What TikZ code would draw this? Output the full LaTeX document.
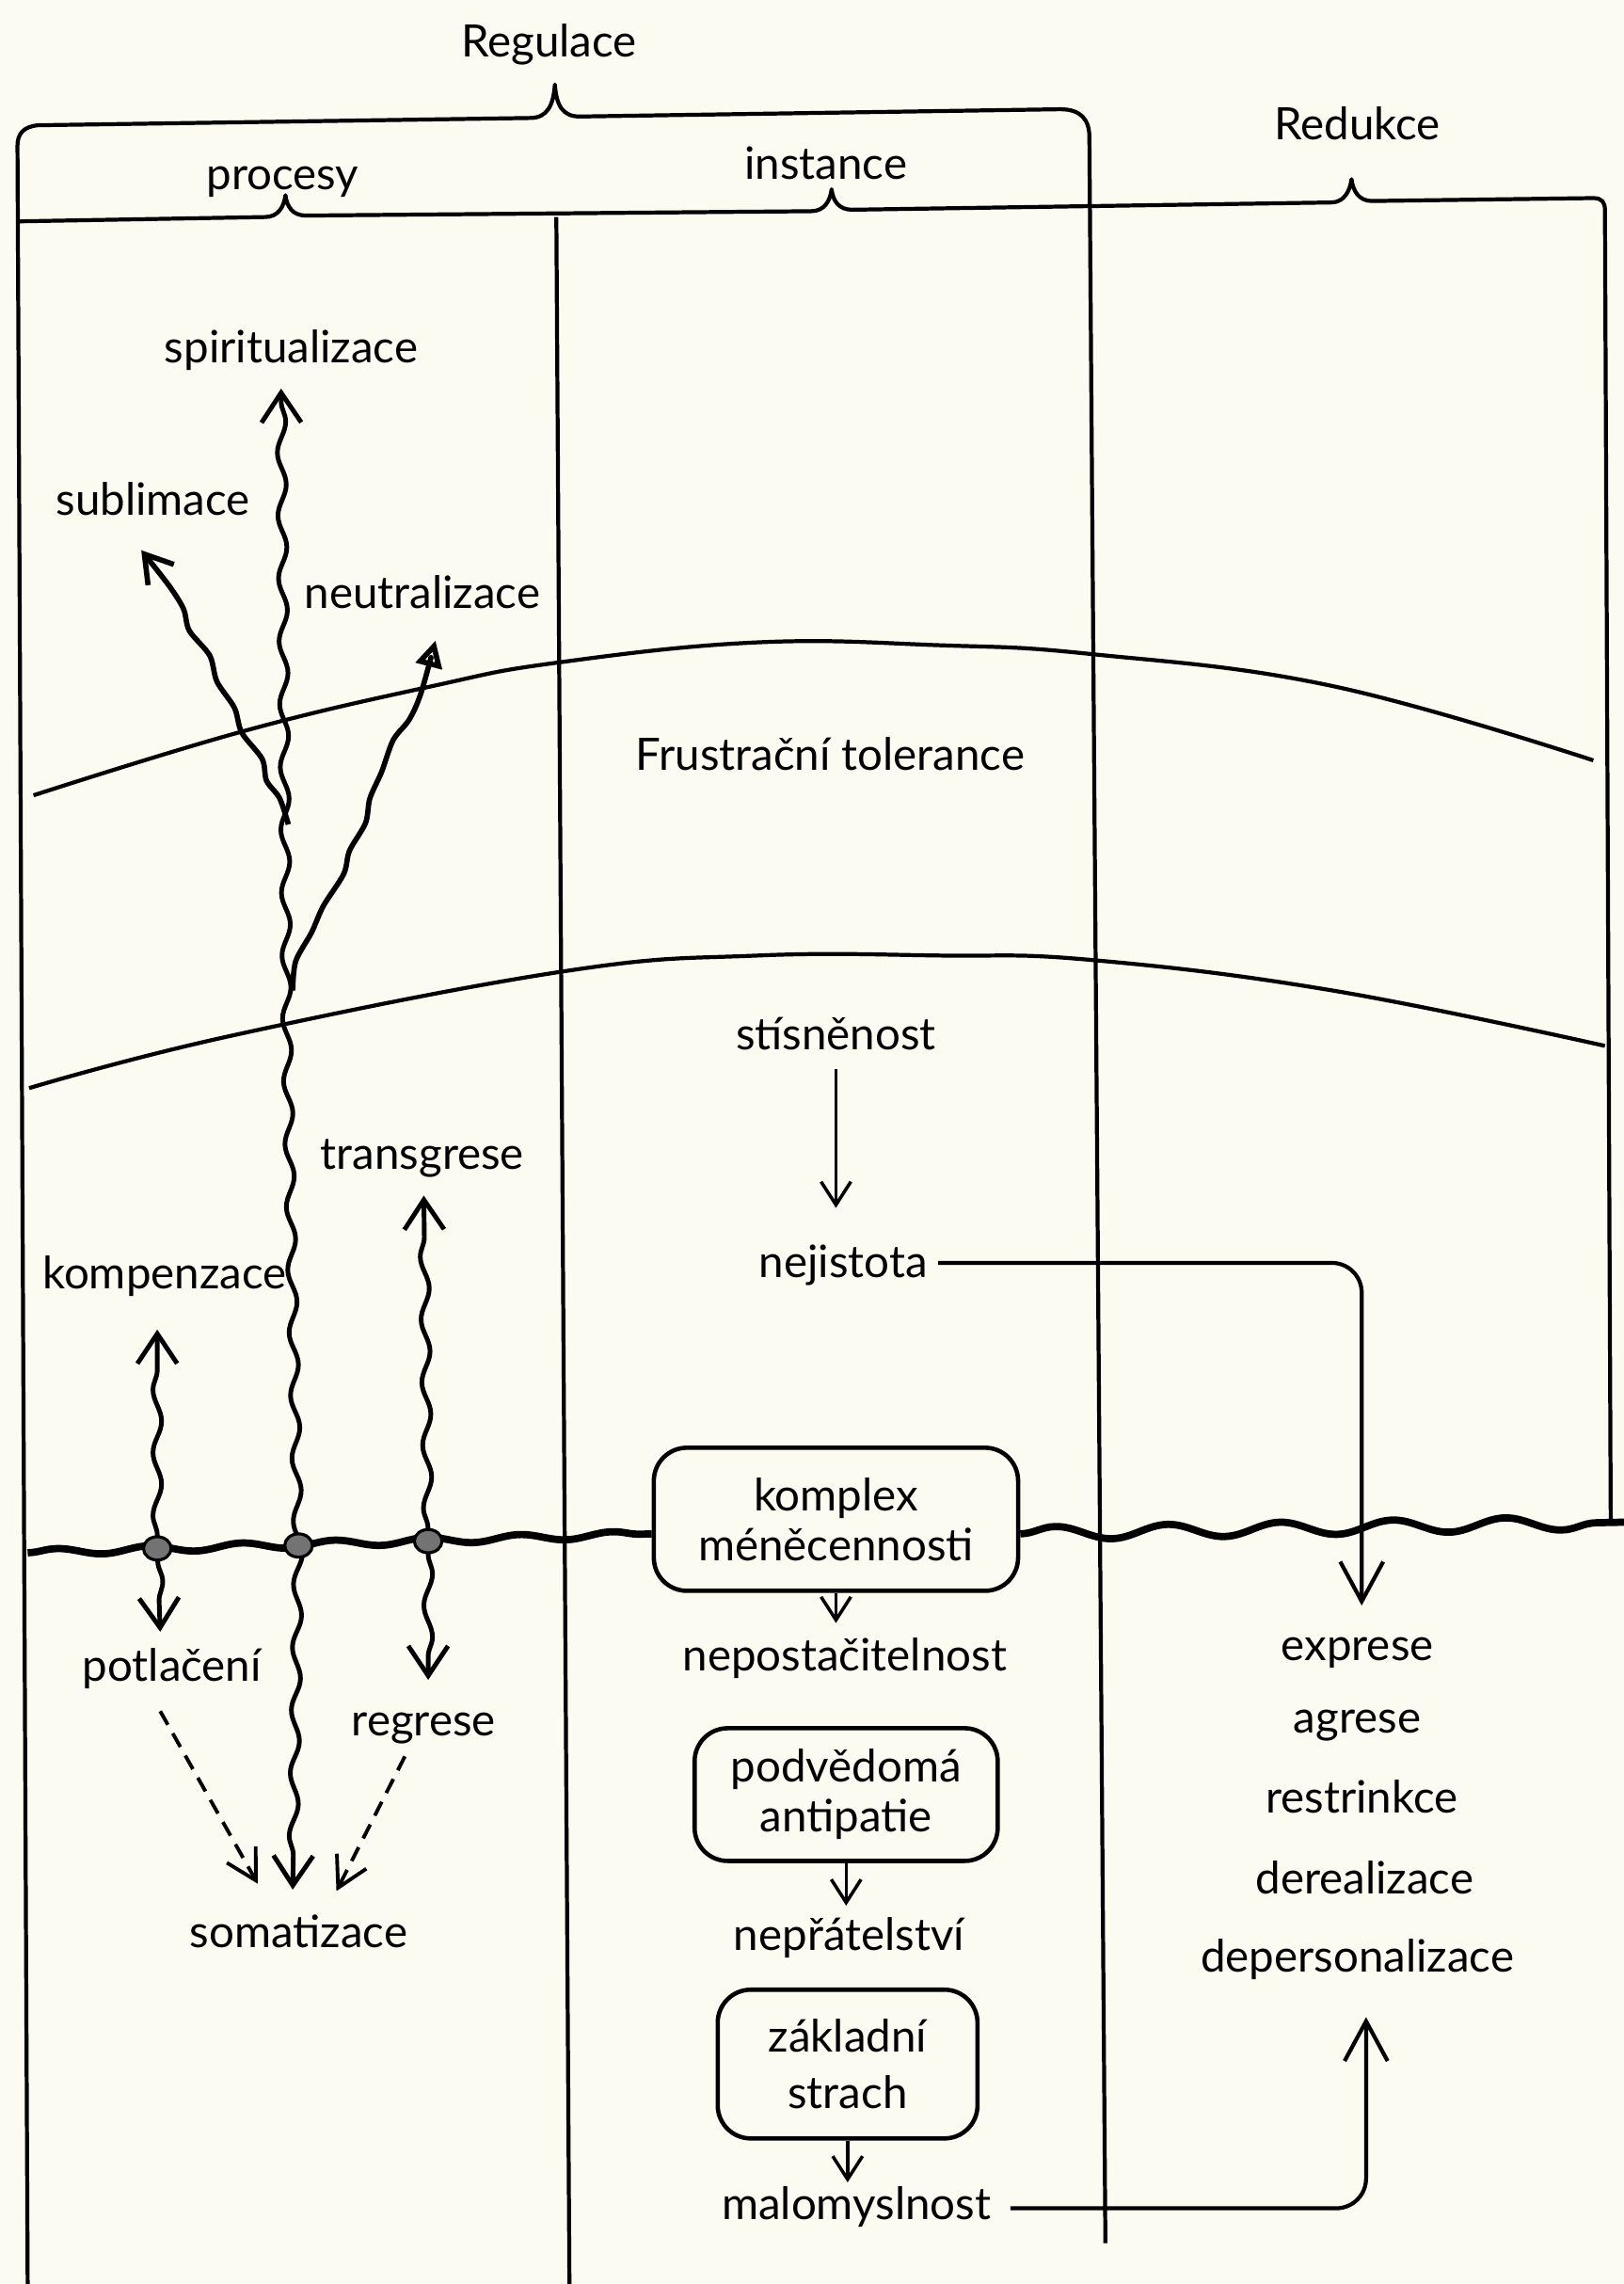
\documentclass[tikz,border=0pt]{standalone}
\usepackage{fontspec}
\setmainfont{Lato}
\usetikzlibrary{arrows.meta,decorations.pathmorphing,calc}
\definecolor{paper}{RGB}{251,251,242}
\definecolor{knotfill}{RGB}{115,115,115}
\newcommand{\lblfont}{\fontsize{13.5}{15}\selectfont}
\begin{document}
\begin{tikzpicture}[x=0.01548cm,y=-0.01548cm,
  lbl/.style={font=\lblfont, inner sep=0pt, text height=9.8pt, text depth=2.8pt},
  ln/.style={line width=1.2pt, line join=round},
  rbox/.style={draw, line width=1.3pt, rounded corners=10pt, fill=paper, align=center, font=\lblfont, inner sep=0pt},
  sarr/.style={arrows={-Straight Barb[length=7pt,width=9pt]}, line width=1pt},
  barr/.style={arrows={-Straight Barb[length=12pt,width=13pt]}, line width=1.2pt, rounded corners=9pt},
  wv/.style={decorate, decoration={snake, amplitude=1.3pt, segment length=19pt, pre length=4pt, post length=7pt}, line width=1.4pt},
  wvb/.style={line width=1.6pt, line join=round},
  thickwave/.style={decorate, decoration={snake, amplitude=1pt, segment length=28pt}, line width=2.2pt},
  thickwaveb/.style={decorate, decoration={snake, amplitude=2pt, segment length=34pt}, line width=2.2pt},
  dsh/.style={dash pattern=on 4.7pt off 3pt, line width=1.1pt, arrows={-Straight Barb[length=9pt,width=10pt]}},
  knotst/.style={draw, line width=0.9pt, fill=knotfill},
]
\fill[paper] (0,0) rectangle (1115,1568);
\useasboundingbox (0,0) rectangle (1115,1568);

% ---------- labels ----------
\node[lbl] (regul) at (377,31) {Regulace};
\node[lbl] (reduk) at (932,88) {Redukce};
\node[lbl] (proc) at (194,122) {procesy};
\node[lbl] (inst) at (567,115) {instance};
\node[lbl] (spir) at (200,241) {spiritualizace};
\node[lbl] (subl) at (105,346) {sublimace};
\node[lbl] (neut) at (290,410) {neutralizace};
\node[lbl] (frus) at (570,521) {Frustrační tolerance};
\node[lbl] (stis) at (574,713) {stísněnost};
\node[lbl] (nej) at (579,869) {nejistota};
\node[lbl] (trans) at (290,795) {transgrese};
\node[lbl] (komp) at (113,877) {kompenzace};
\node[lbl] (potl) at (118,1146) {potlačení};
\node[lbl] (regr) at (291,1184) {regrese};
\node[lbl] (soma) at (205,1329) {somatizace};
\node[rbox, minimum width=3.87cm, minimum height=1.52cm] (kompl) at (574,1043) {komplex\\méněcennosti};
\node[lbl] (nepo) at (580,1139) {nepostačitelnost};
\node[rbox, minimum width=3.22cm, minimum height=1.41cm] (podv) at (581,1232) {podvědomá\\antipatie};
\node[lbl] (nepr) at (583,1331) {nepřátelství};
\node[rbox, minimum width=2.76cm, minimum height=1.58cm, font=\fontsize{13.5}{17}\selectfont] (zakl) at (582,1417) {základní\\strach};
\node[lbl] (malo) at (588,1516) {malomyslnost};
\node[lbl] (expr) at (932,1132) {exprese};
\node[lbl] (agr) at (932,1182) {agrese};
\node[lbl] (restr) at (935,1237) {restrinkce};
\node[lbl] (dereal) at (937,1292) {derealizace};
\node[lbl] (deper) at (932,1346) {depersonalizace};

% ---------- frame and braces ----------
\draw[ln] (19,1568) -- (12,100) .. controls (12,92) and (16,87) .. (26,86)
  -- (364,81) .. controls (376,81) and (380,72) .. (381,58)
  .. controls (382,72) and (386,80) .. (398,80)
  -- (728,75) .. controls (742,75) and (748,82) .. (748,94) -- (759,1540);
\draw[ln] (12,152) -- (182,149) .. controls (191,149) and (195,142) .. (196,134)
  .. controls (197,142) and (201,148) .. (210,148)
  -- (557,145) .. controls (566,145) and (570,138) .. (571,130)
  .. controls (572,138) and (576,144) .. (585,144)
  -- (914,139) .. controls (923,139) and (927,131) .. (928,123)
  .. controls (929,131) and (933,138) .. (942,138)
  -- (1094,136) .. controls (1100,136) and (1102,139) .. (1102,144) -- (1106,1047);
\draw[ln] (382,149) -- (391,1568);

% ---------- frustration tolerance curves ----------
\draw[ln] plot[smooth, tension=0.7] coordinates {(23,546) (167,502) (297,471) (382,455) (520,441) (646,443) (749,449) (915,471) (1094,522)};
\draw[ln] plot[smooth, tension=0.7] coordinates {(20,747) (159,711) (386,667) (520,656) (646,656) (749,659) (915,680) (1102,718)};

% ---------- knots on the threshold ----------
\path (108,1063) coordinate (d1) (205,1061) coordinate (d2) (294,1058) coordinate (d3);

% ---------- threshold wavy line ----------
\draw[thickwave] (19,1066) -- ($(kompl.west)+(0,10)$);
\draw[thickwaveb] ($(kompl.east)+(0,10)$) -- (1115,1045);

% ---------- wavy process arrows ----------
\draw[wv, arrows={Straight Barb[length=9pt,width=12pt]-Straight Barb[length=9pt,width=12pt]}]
  ($(spir.south)+(-7,11)$) -- (197,700) -- (d2) -- ($(soma.north)+(-4,-17)$);
\coordinate (sublT) at ($(subl.south)+(-8,17)$);
\draw[wvb, arrows={-Straight Barb[length=8pt,width=10pt]}]
  plot[smooth, tension=0.5] coordinates {(198,566) (192,548) (183,536) (180,521) (166,503) (161,486) (149,468) (144,450) (130,433) (126,418) (116,402) (sublT)};
\coordinate (neutT) at ($(neut.south)+(9,15)$);
\draw[wvb, arrows={-Triangle[open,length=8pt,width=8pt]}]
  plot[smooth, tension=0.5] coordinates {(201,680) (203,660) (214,640) (222,622) (236,600) (240,584) (251,565) (254,548) (262,530) (270,508) (281,494) (289,476) (neutT)};
\draw[wv, arrows={-Straight Barb[length=9pt,width=12pt]}] (d1) -- ($(komp.south -| d1)+(0,21)$);
\draw[wv, arrows={-Straight Barb[length=9pt,width=12pt]}] (d1) -- ($(potl.north -| d1)+(2,-11)$);
\draw[wv, arrows={-Straight Barb[length=9pt,width=12pt]}] (d3) -- ($(trans.south -| d3)+(-3,11)$);
\draw[wv, arrows={-Straight Barb[length=9pt,width=12pt]}] (d3) -- ($(regr.north -| d3)+(0,-16)$);
\foreach \d in {d1,d2,d3} \draw[knotst] (\d) ellipse (9.5 and 8);

% ---------- dashed arrows to somatizace ----------
\draw[dsh] ($(potl.south)+(-8,14)$) -- ($(soma.north)+(-28,-21)$);
\draw[dsh] ($(regr.south)+(-13,7)$) -- ($(soma.north)+(26,-16)$);

% ---------- instance column ----------
\draw[sarr] ($(stis.south)+(0,6)$) -- ($(stis.south |- nej.north)+(0,-25)$);
\draw[sarr] (kompl.south) -- ($(kompl.south |- nepo.north)+(0,-10)$);
\draw[sarr] (podv.south) -- ($(podv.south |- nepr.north)+(0,-8)$);
\draw[sarr] (zakl.south) -- ($(zakl.south |- malo.north)+(0,-3)$);
\draw[barr] ($(nej.east)+(7,-2)$) -| ($(expr.north)+(3,-15)$);
\draw[barr] ($(malo.east)+(13,0)$) -| ($(deper.south)+(6,24)$);
\end{tikzpicture}
\end{document}
